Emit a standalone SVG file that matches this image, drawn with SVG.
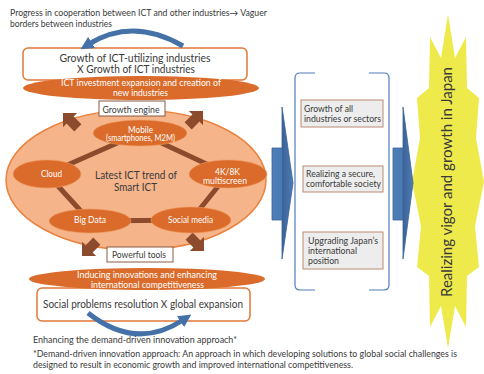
<svg xmlns="http://www.w3.org/2000/svg" width="484" height="374" viewBox="0 0 484 374">
  <defs>
    <style>
      text { font-family: Lato, "Liberation Sans", "DejaVu Sans", sans-serif; fill: #3a3a3a; }
      .c { text-anchor: middle; }
      .s8 { font-size: 8.5px; }
      .s9 { font-size: 9px; }
      .s11 { font-size: 10.5px; }
      .wt { fill: #ffffff; }
      .oval { fill: #da6b2a; stroke: #ee9a62; stroke-width: 0.6; }
      .band { fill: #da6b2a; }
      .tag { fill: #ffffff; stroke: #8c5a45; stroke-width: 1; }
      .frame { fill: #ffffff; stroke: #e07838; stroke-width: 1.5; }
      .note { fill: #ededed; stroke: #b98a75; stroke-width: 1; }
      .block { fill: #8c4b2c; }
      .ring { fill: none; stroke: #8c4b2c; stroke-width: 5; stroke-linejoin: round; }
      .curve { fill: none; stroke: #4472a8; stroke-width: 5; }
      .bar { fill: url(#barFill); stroke: #3a6296; stroke-width: 0.8; }
      .bracket { fill: none; stroke: #4f7fba; stroke-width: 1.2; }
    </style>
    <linearGradient id="barFill" x1="0" y1="0" x2="1" y2="0">
      <stop offset="0" stop-color="#4f7fb8"/>
      <stop offset="0.45" stop-color="#4a7ab3"/>
      <stop offset="0.5" stop-color="#3b6398"/>
      <stop offset="1" stop-color="#4d7cb5"/>
    </linearGradient>
    <marker id="blueHead" markerUnits="userSpaceOnUse" markerWidth="13" markerHeight="13" refX="3" refY="6.5" orient="auto">
      <path d="M0,0 L13,6.5 L0,13 Z" fill="#4472a8"/>
    </marker>
    <path id="blockArrow" d="M0,0 L-10,-10 L-10,-5 L-21,-5 L-21,5 L-10,5 L-10,10 Z"/>
  </defs>

  <!-- heading note -->
  <g id="heading">
    <text class="s9" x="10" y="16" textLength="257" lengthAdjust="spacingAndGlyphs">Progress in cooperation between ICT and other industries→ Vaguer</text>
    <text class="s9" x="10" y="26.5" textLength="102" lengthAdjust="spacingAndGlyphs">borders between industries</text>
  </g>

  <!-- big yellow goal shape -->
  <g id="goal">
    <polygon points="448,14 455,58 466,37 467,88 479,98 476,138 484,182 475,226 479,267 467,276 466,327 455,306 448,348 441,306 430,327 429,276 417,267 421,226 412,182 420,138 417,98 429,88 430,37 441,58" fill="#eeea4c"/>
    <text class="c" font-size="15" transform="translate(452,182) rotate(-90)" textLength="230" lengthAdjust="spacingAndGlyphs">Realizing vigor and growth in Japan</text>
  </g>

  <!-- top frame -->
  <g id="growth-frame">
    <rect class="frame" x="23" y="48" width="224" height="32" rx="5"/>
    <text class="s11 c" x="135" y="62" textLength="151" lengthAdjust="spacingAndGlyphs">Growth of ICT-utilizing industries</text>
    <text class="s11 c" x="136" y="73" textLength="118" lengthAdjust="spacingAndGlyphs">X Growth of ICT industries</text>
  </g>

  <g id="investment-band">
    <ellipse class="band" cx="141" cy="88" rx="118" ry="12"/>
    <text class="s9 c wt" x="141" y="86" textLength="160" lengthAdjust="spacingAndGlyphs">ICT investment expansion and creation of</text>
    <text class="s9 c wt" x="140.5" y="96" textLength="55" lengthAdjust="spacingAndGlyphs">new industries</text>
  </g>

  <!-- central trend ellipse -->
  <g id="trend-hub">
    <ellipse cx="136" cy="180" rx="130" ry="70" fill="#f5b48a" stroke="#e8843f" stroke-width="1.5"/>
  </g>

  <!-- connectors -->
  <g id="connectors">
    <polygon class="ring" points="140,133 228,174 191,220 90,221 47,174"/>
    <use href="#blockArrow" class="block" transform="translate(63,113) rotate(-135)"/>
    <use href="#blockArrow" class="block" transform="translate(203,111) rotate(-45)"/>
    <use href="#blockArrow" class="block" transform="translate(82,256) rotate(135)"/>
    <use href="#blockArrow" class="block" transform="translate(204,251) rotate(45)"/>
    <path class="bar" d="M272,148 L282,148 L282,107 L293,183 L282,259 L282,220 L272,220 Z"/>
    <path class="bar" d="M393,148 L403,148 L403,107 L413,183 L403,259 L403,220 L393,220 Z"/>
  </g>

  <g id="hub-label">
    <text class="c" font-size="11" x="136" y="179" textLength="82" lengthAdjust="spacingAndGlyphs">Latest ICT trend of</text>
    <text class="c" font-size="11" x="135.5" y="191" textLength="43" lengthAdjust="spacingAndGlyphs">Smart ICT</text>
  </g>

  <g id="node-mobile">
    <ellipse class="oval" cx="140" cy="133" rx="47" ry="13"/>
    <text class="s8 c wt" x="140.5" y="132.5" textLength="25" lengthAdjust="spacingAndGlyphs">Mobile</text>
    <text class="s8 c wt" x="140.5" y="141" textLength="69" lengthAdjust="spacingAndGlyphs">(smartphones, M2M)</text>
  </g>
  <g id="node-cloud">
    <ellipse class="oval" cx="47" cy="174" rx="34" ry="14"/>
    <text class="s8 c wt" x="51.5" y="176.5" textLength="21" lengthAdjust="spacingAndGlyphs">Cloud</text>
  </g>
  <g id="node-4k8k">
    <ellipse class="oval" cx="228" cy="174" rx="39" ry="14"/>
    <text class="s8 c wt" x="227.5" y="175" textLength="25" lengthAdjust="spacingAndGlyphs">4K/8K</text>
    <text class="s8 c wt" x="225" y="183.5" textLength="44" lengthAdjust="spacingAndGlyphs">multiscreen</text>
  </g>
  <g id="node-bigdata">
    <ellipse class="oval" cx="90" cy="221" rx="41" ry="12"/>
    <text class="s8 c wt" x="90" y="223" textLength="32" lengthAdjust="spacingAndGlyphs">Big Data</text>
  </g>
  <g id="node-social">
    <ellipse class="oval" cx="191" cy="220" rx="40" ry="13"/>
    <text class="s8 c wt" x="190.5" y="222.5" textLength="45" lengthAdjust="spacingAndGlyphs">Social media</text>
  </g>

  <g id="tag-engine">
    <rect class="tag" x="99" y="101" width="66" height="15"/>
    <text class="s9 c" x="131" y="112.5" textLength="57" lengthAdjust="spacingAndGlyphs">Growth engine</text>
  </g>
  <g id="tag-tools">
    <rect class="tag" x="107" y="247" width="66" height="15"/>
    <text class="s9 c" x="139" y="258" textLength="54" lengthAdjust="spacingAndGlyphs">Powerful tools</text>
  </g>

  <!-- bottom frame and band (band sits over the frame's top edge) -->
  <g id="solution-frame">
    <rect class="frame" x="37" y="288" width="213" height="33" rx="5"/>
    <text class="c" font-size="11.5" x="143" y="308" textLength="200" lengthAdjust="spacingAndGlyphs">Social problems resolution X global expansion</text>
  </g>
  <g id="innovation-band">
    <ellipse class="band" cx="147" cy="279" rx="118" ry="11"/>
    <text class="s9 c wt" x="147" y="278" textLength="140" lengthAdjust="spacingAndGlyphs">Inducing innovations and enhancing</text>
    <text class="s9 c wt" x="147.5" y="288" textLength="113" lengthAdjust="spacingAndGlyphs">international competitiveness</text>
  </g>

  <!-- cycle arrows -->
  <g id="cycle-arrows">
    <path class="curve" d="M183,46 Q133,17 89,44" marker-end="url(#blueHead)"/>
    <path class="curve" d="M88,313 Q136,351 183,320" marker-end="url(#blueHead)"/>
  </g>

  <!-- outcome column -->
  <g id="outcomes">
    <path class="bracket" d="M315,73 L300,73 Q295,73 295,78 L295,285 Q295,290 300,290 L315,290"/>
    <path class="bracket" d="M369,73 L384,73 Q389,73 389,78 L389,285 Q389,290 384,290 L369,290"/>
  </g>
  <g id="outcome-growth">
    <rect class="note" x="301" y="100" width="82" height="27"/>
    <text class="s9" x="304" y="112" textLength="49" lengthAdjust="spacingAndGlyphs">Growth of all</text>
    <text class="s9" x="304" y="122" textLength="77" lengthAdjust="spacingAndGlyphs">industries or sectors</text>
  </g>
  <g id="outcome-society">
    <rect class="note" x="303" y="166" width="80" height="26"/>
    <text class="s9" x="306" y="176.5" textLength="69" lengthAdjust="spacingAndGlyphs">Realizing a secure,</text>
    <text class="s9" x="306" y="186.5" textLength="75" lengthAdjust="spacingAndGlyphs">comfortable society</text>
  </g>
  <g id="outcome-position">
    <rect class="note" x="303" y="232" width="80" height="37"/>
    <text class="s9" x="308" y="243.5" textLength="70" lengthAdjust="spacingAndGlyphs">Upgrading Japan’s</text>
    <text class="s9" x="308" y="253.5" textLength="49" lengthAdjust="spacingAndGlyphs">international</text>
    <text class="s9" x="308" y="263.5" textLength="31" lengthAdjust="spacingAndGlyphs">position</text>
  </g>

  <!-- footnotes -->
  <g id="footnotes">
    <text class="s9" x="33" y="343" textLength="204" lengthAdjust="spacingAndGlyphs">Enhancing the demand-driven innovation approach*</text>
    <text class="s9" x="33" y="357" textLength="424" lengthAdjust="spacingAndGlyphs">*Demand-driven innovation approach: An approach in which developing solutions to global social challenges is</text>
    <text class="s9" x="33" y="368" textLength="320" lengthAdjust="spacingAndGlyphs">designed to result in economic growth and improved international competitiveness.</text>
  </g>
</svg>
